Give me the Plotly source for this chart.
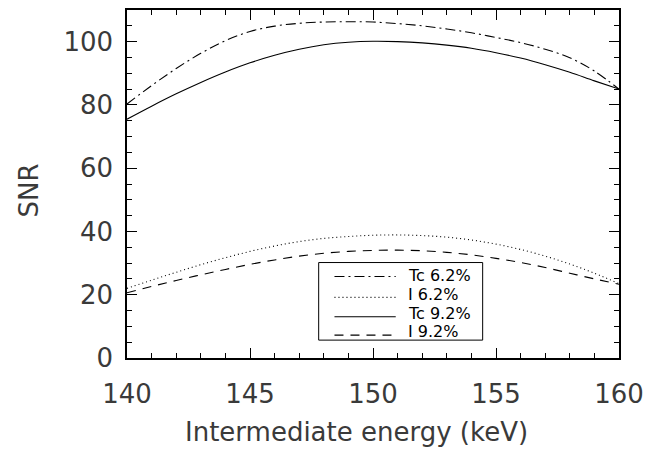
import plotly.graph_objects as go

energy = [140, 141, 142, 143, 144, 145, 146, 147, 148, 149, 150,
          151, 152, 153, 154, 155, 156, 157, 158, 159, 160]

tc_62 = [80.3, 86.1, 91.5, 96.3, 100.3, 103.2, 104.9, 105.8, 106.2, 106.3, 106.2,
         105.7, 105.0, 104.0, 102.8, 101.3, 99.7, 97.6, 94.9, 90.7, 85.0]
i_62 = [22.0, 24.6, 27.1, 29.5, 31.7, 33.7, 35.4, 36.8, 37.8, 38.4, 38.8,
        38.9, 38.7, 38.2, 37.3, 36.0, 34.3, 32.2, 29.7, 26.8, 23.5]
tc_92 = [75.5, 79.6, 83.5, 87.1, 90.4, 93.3, 95.7, 97.6, 99.0, 99.8, 100.1,
         100.0, 99.6, 98.9, 97.9, 96.5, 94.8, 92.7, 90.3, 87.6, 85.0]
i_92 = [20.6, 22.6, 24.5, 26.3, 28.0, 29.6, 31.0, 32.2, 33.1, 33.7, 34.0,
        34.1, 33.9, 33.4, 32.6, 31.5, 30.2, 28.6, 26.8, 25.0, 23.3]

series_names = ["Tc 6.2%", "I 6.2%", "Tc 9.2%", "I 9.2%"]
series_values = [tc_62, i_62, tc_92, i_92]
dashes = ["10px,4px,2px,4px", "1px,3px", "solid", "9px,7px"]

x_title = "Intermediate energy (keV)"
y_title = "SNR"

FONT = "DejaVu Sans"
TXT = "#3a3a3a"

fig = go.Figure()
for name, vals, dash in zip(series_names, series_values, dashes):
    fig.add_trace(go.Scatter(
        x=energy, y=vals, mode="lines", name=name, showlegend=False,
        line=dict(color="black", width=1.1, dash=dash, shape="spline"),
    ))

axis_common = dict(
    showgrid=False, zeroline=False, showline=True, linecolor="black", linewidth=1.5,
    mirror="ticks", ticks="inside", ticklen=10, tickwidth=1, tickcolor="black",
    tickfont=dict(family=FONT, size=26, color=TXT),
)

fig.update_xaxes(range=[140, 160], dtick=5, tick0=140, ticklabelstandoff=12,
                 minor=dict(dtick=1, ticks="inside", ticklen=5, tickcolor="black"),
                 **axis_common)
fig.update_yaxes(range=[0, 110], dtick=20, tick0=0, ticklabelstandoff=7,
                 minor=dict(dtick=5, ticks="inside", ticklen=5, tickcolor="black"),
                 **axis_common)

fig.add_annotation(text=x_title, xref="paper", yref="paper", x=0.466, y=-0.214,
                   xanchor="center", yanchor="middle", showarrow=False,
                   font=dict(family=FONT, size=26, color=TXT))
fig.add_annotation(text=y_title, xref="paper", yref="paper", x=-0.2, y=0.48,
                   xanchor="center", yanchor="middle", showarrow=False, textangle=-90,
                   font=dict(family=FONT, size=26, color=TXT))

# custom legend (box, line samples, labels) in paper coordinates
leg_x0, leg_x1, leg_y0, leg_y1 = 0.3896, 0.7229, 0.0514, 0.2743
text_y = [0.2371, 0.1829, 0.1286, 0.0771]
sample_y = [0.2343, 0.1743, 0.1186, 0.0657]
sample_x0, sample_x1, label_x = 0.4217, 0.5462, 0.5663

fig.add_shape(type="rect", xref="paper", yref="paper",
              x0=leg_x0, x1=leg_x1, y0=leg_y0, y1=leg_y1,
              line=dict(color="black", width=1), fillcolor="white", layer="above")
for name, dash, ty, sy in zip(series_names, dashes, text_y, sample_y):
    fig.add_shape(type="line", xref="paper", yref="paper",
                  x0=sample_x0, x1=sample_x1, y0=sy, y1=sy,
                  line=dict(color="black", width=1.1, dash=dash), layer="above")
    fig.add_annotation(text=name, xref="paper", yref="paper", x=label_x, y=ty,
                       xanchor="left", yanchor="middle", showarrow=False,
                       font=dict(family=FONT, size=16, color="black"))

fig.update_layout(
    width=652, height=452,
    margin=dict(l=127, r=27, t=8, b=94),
    plot_bgcolor="white", paper_bgcolor="white",
    showlegend=False,
)

fig.write_html("out.html")
